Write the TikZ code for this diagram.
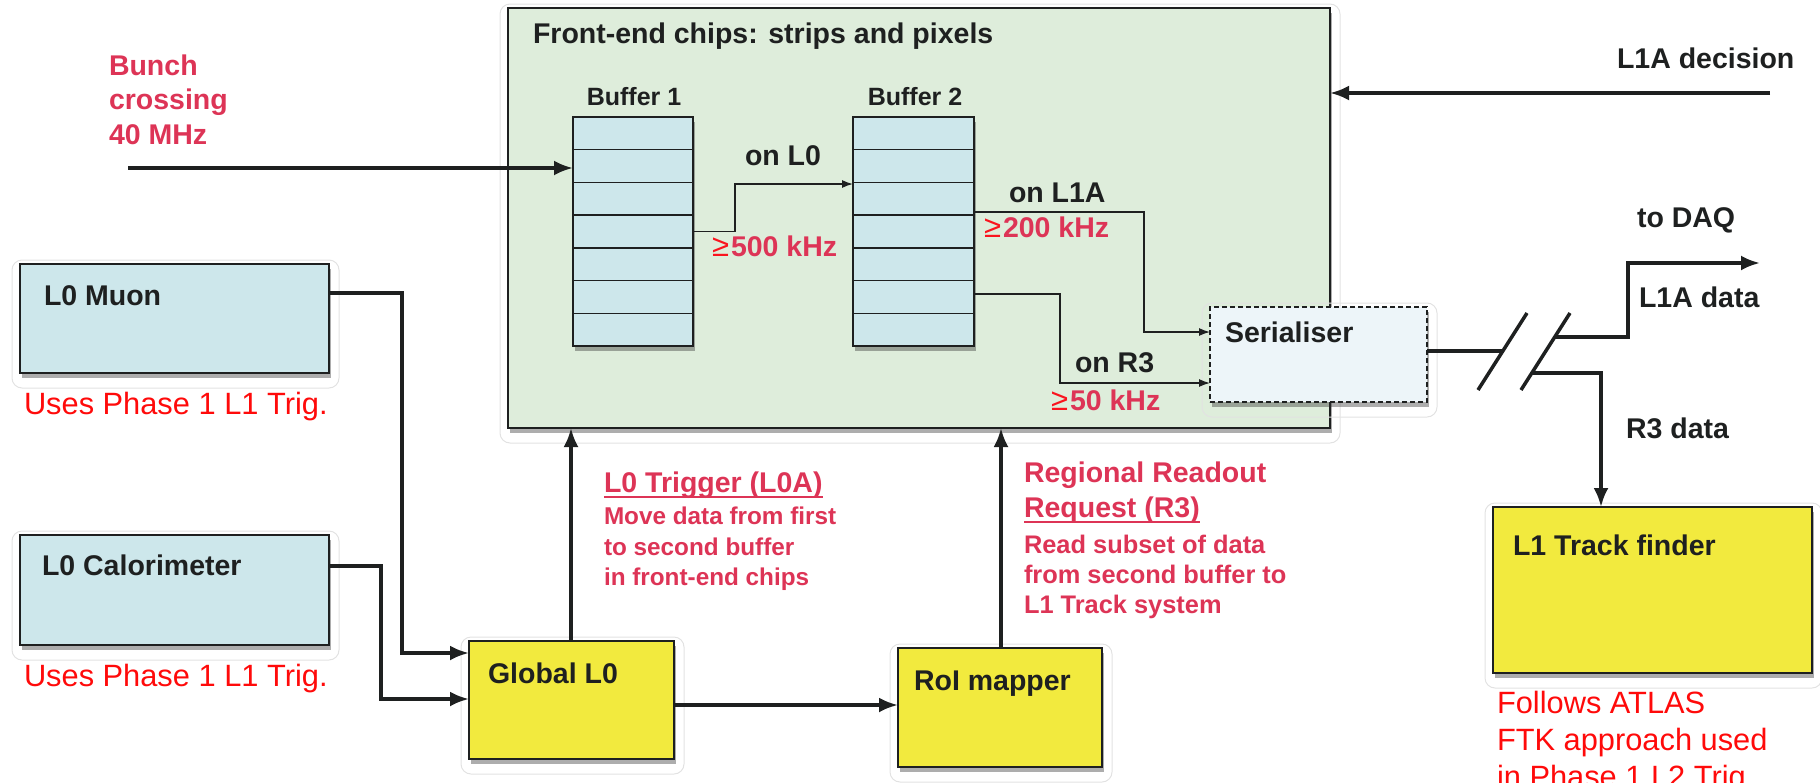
\documentclass[tikz,border=0pt]{standalone}
\usepackage{fontspec}
\setmainfont{Liberation Sans}
\usetikzlibrary{calc,shadows,arrows.meta}

\definecolor{feGreen}{RGB}{222,237,219}
\definecolor{boxBlue}{RGB}{205,231,235}
\definecolor{boxYellow}{RGB}{242,234,62}
\definecolor{serFill}{RGB}{237,245,249}
\definecolor{noteRed}{RGB}{221,52,86}
\definecolor{geRed}{RGB}{250,20,30}
\definecolor{plainRed}{RGB}{255,10,10}
\definecolor{ink}{RGB}{30,32,32}
\definecolor{haloGrey}{RGB}{226,226,226}

\newcommand\blackfont{\fontsize{28.5}{34}\selectfont\bfseries}
\newcommand\buffont{\fontsize{25}{30}\selectfont\bfseries}
\newcommand\redhead{\fontsize{28.5}{34}\selectfont\bfseries}
\newcommand\redbodyA{\fontsize{24.3}{30}\selectfont\bfseries}
\newcommand\redbodyB{\fontsize{25.4}{30}\selectfont\bfseries}
\newcommand\plainnote{\fontsize{30.8}{37}\selectfont}
\newcommand\gesign{{\fontsize{31}{31}\selectfont\mdseries\color{geRed}≥}\kern2pt}

% light rounded outline around a block
\newcommand\halo[1]{\draw[haloGrey, line width=1pt, rounded corners=10pt]
  ($(#1.north west)+(-8,-4)$) rectangle ($(#1.south east)+(10,15)$);}

\tikzset{
  box/.style={draw=ink, line width=1.6pt, inner sep=0pt, outer sep=0pt, anchor=north west,
    drop shadow={shadow xshift=2pt, shadow yshift=-5pt, opacity=0.4, fill=black!80}},
  txt/.style={anchor=base west, inner sep=0pt, outer sep=0pt, text=ink, font=\blackfont},
  rtxt/.style={anchor=base west, inner sep=0pt, outer sep=0pt, text=noteRed},
  ptxt/.style={anchor=base west, inner sep=0pt, outer sep=0pt, text=plainRed, font=\plainnote},
  bigline/.style={line width=3.5pt, draw=ink},
  bigarrow/.style={bigline, -{Latex[length=19pt,width=15pt]}},
  smallarrow/.style={line width=1.3pt, draw=ink, -{Latex[length=11pt,width=8pt]}},
  rowline/.style={line width=1.3pt, draw=ink}
}

\begin{document}
\begin{tikzpicture}[x=1pt,y=-1pt]
\useasboundingbox (0,0) rectangle (1820,782);
\clip (0,0) rectangle (1820,782);

% ---------- blocks ----------
\node[box, fill=feGreen, minimum width=822pt, minimum height=420pt] (fe) at (508,8) {};
\halo{fe}
\node[box, fill=boxBlue, minimum width=309pt, minimum height=109pt] (muon) at (20,264) {};
\halo{muon}
\node[box, fill=boxBlue, minimum width=309pt, minimum height=110pt] (calo) at (20,535) {};
\halo{calo}
\node[box, fill=boxYellow, minimum width=205pt, minimum height=118pt] (gl0) at (469,641) {};
\halo{gl0}
\node[box, fill=boxYellow, minimum width=204pt, minimum height=119pt] (roi) at (898,648) {};
\halo{roi}
\node[box, fill=boxYellow, minimum width=319pt, minimum height=166pt] (l1t) at (1493,507) {};
\halo{l1t}

% buffers inside the front-end chip
\node[box, fill=boxBlue, minimum width=120pt, minimum height=229pt] (b1) at (573,117) {};
\node[box, fill=boxBlue, minimum width=121pt, minimum height=229pt] (b2) at (853,117) {};
\foreach \i in {1,...,6}{
  \draw[rowline] ($(b1.north west)!\i/7!(b1.south west)$) -- ($(b1.north east)!\i/7!(b1.south east)$);
  \draw[rowline] ($(b2.north west)!\i/7!(b2.south west)$) -- ($(b2.north east)!\i/7!(b2.south east)$);
}

\node[box, fill=serFill, dash pattern=on 5pt off 3pt, minimum width=217pt, minimum height=95pt] (ser) at (1210,307) {};
\halo{ser}

% ---------- block titles ----------
\node[txt] (felbl) at (533,43) {Front-end chips: strips and pixels};
\node[txt, font=\buffont, anchor=base] (b1lbl) at (634,105) {Buffer 1};
\node[txt, font=\buffont, anchor=base] (b2lbl) at (915,105) {Buffer 2};
\node[txt] (muonlbl) at (44,305) {L0 Muon};
\node[txt] (calolbl) at (42,575) {L0 Calorimeter};
\node[txt] (gl0lbl) at (488,683) {Global L0};
\node[txt] (roilbl) at (914,690) {RoI mapper};
\node[txt] (l1tlbl) at (1513,555) {L1 Track finder};
\node[txt] (serlbl) at (1225,342) {Serialiser};

% ---------- connectors inside the chip ----------
\draw[smallarrow] (b1.east) -- ++(42,0) |- ($(b2.north west)+(0,67)$);
\draw[smallarrow] ($(b2.north east)+(0,95)$) -- ++(170,0) |- ($(ser.north west)+(0,25)$);
\draw[smallarrow] ($(b2.north east)+(0,177)$) -- ++(86,0) |- ($(ser.south west)+(0,-19)$);

\node[txt] (onl0) at (745,165) {on L0};
\node[txt] (onl1a) at (1009,202) {on L1A};
\node[txt] (onr3) at (1075,372) {on R3};
\node[rtxt, font=\redhead] (r500) at (712,256) {\gesign 500 kHz};
\node[rtxt, font=\redhead] (r200) at (984,237) {\gesign 200 kHz};
\node[rtxt, font=\redhead] (r50) at (1051,410) {\gesign 50 kHz};

% ---------- external inputs ----------
\coordinate (bcstart) at (128,168);
\draw[bigarrow] (bcstart) -- (bcstart -| b1.west);
\node[rtxt, font=\redhead] (bc1) at (109,75) {Bunch};
\node[rtxt, font=\redhead] (bc2) at (109,109) {crossing};
\node[rtxt, font=\redhead] (bc3) at (109,144) {40 MHz};

\coordinate (l1astart) at (1770,93);
\draw[bigarrow] (l1astart) -- (l1astart -| fe.east);
\node[txt] (l1adec) at (1617,68) {L1A decision};

% ---------- trigger path ----------
\draw[bigarrow] ($(muon.north east)+(0,29)$) -- ++(73,0) |- ($(gl0.north west)+(0,12)$);
\draw[bigarrow] ($(calo.north east)+(0,31)$) -- ++(52,0) |- ($(gl0.north west)+(0,58)$);

\coordinate (gl0top) at ($(gl0.north west)+(102,0)$);
\draw[bigarrow] (gl0top) -- (gl0top |- fe.south);
\coordinate (gl0out) at ($(gl0.north east)+(0,64)$);
\draw[bigarrow] (gl0out) -- (gl0out -| roi.west);
\coordinate (roitop) at ($(roi.north west)+(103,0)$);
\draw[bigarrow] (roitop) -- (roitop |- fe.south);

\node[ptxt] (use1) at (24,414) {Uses Phase 1 L1 Trig.};
\node[ptxt] (use2) at (24,686) {Uses Phase 1 L1 Trig.};

\node[rtxt, font=\redhead] (l0a) at (604,492) {L0 Trigger (L0A)};
\draw[noteRed, line width=1.3pt] ($(l0a.base west)+(0,5)$) -- ($(l0a.base east)+(0,5)$);
\node[rtxt, font=\redbodyA] (l0a1) at (604,524) {Move data from first};
\node[rtxt, font=\redbodyA] (l0a2) at (604,555) {to second buffer};
\node[rtxt, font=\redbodyA] (l0a3) at (604,585) {in front-end chips};

\node[rtxt, font=\redhead] (r3a) at (1024,482) {Regional Readout};
\node[rtxt, font=\redhead] (r3b) at (1024,517) {Request (R3)};
\draw[noteRed, line width=1.3pt] ($(r3b.base west)+(0,5)$) -- ($(r3b.base east)+(0,5)$);
\node[rtxt, font=\redbodyB] (r3c) at (1024,553) {Read subset of data};
\node[rtxt, font=\redbodyB] (r3d) at (1024,583) {from second buffer to};
\node[rtxt, font=\redbodyB] (r3e) at (1024,613) {L1 Track system};

% ---------- serialiser output, split into L1A and R3 data ----------
\draw[bigline] ($(ser.north east)+(0,44)$) -- ++(76,0);
\coordinate (s1a) at (1478,390);
\coordinate (s1b) at (1527,313);
\coordinate (s2a) at (1521,390);
\coordinate (s2b) at (1570,313);
\draw[bigline] (s1a) -- (s1b);
\draw[bigline] (s2a) -- (s2b);

\coordinate (up0) at (1555,337);
\coordinate (daq) at (1760,263);
\draw[bigarrow] (up0) -- ++(73,0) |- (daq);
\coordinate (lo0) at (1532,373);
\draw[bigarrow] (lo0) -| ($(l1t.north west)+(108,0)$);

\node[txt] (todaq) at (1637,227) {to DAQ};
\node[txt] (l1adata) at (1639,307) {L1A data};
\node[txt] (r3data) at (1626,438) {R3 data};

\node[ptxt] (ftk1) at (1497,713) {Follows ATLAS};
\node[ptxt] (ftk2) at (1497,750) {FTK approach used};
\node[ptxt] (ftk3) at (1497,787) {in Phase 1 L2 Trig.};
\end{tikzpicture}
\end{document}
